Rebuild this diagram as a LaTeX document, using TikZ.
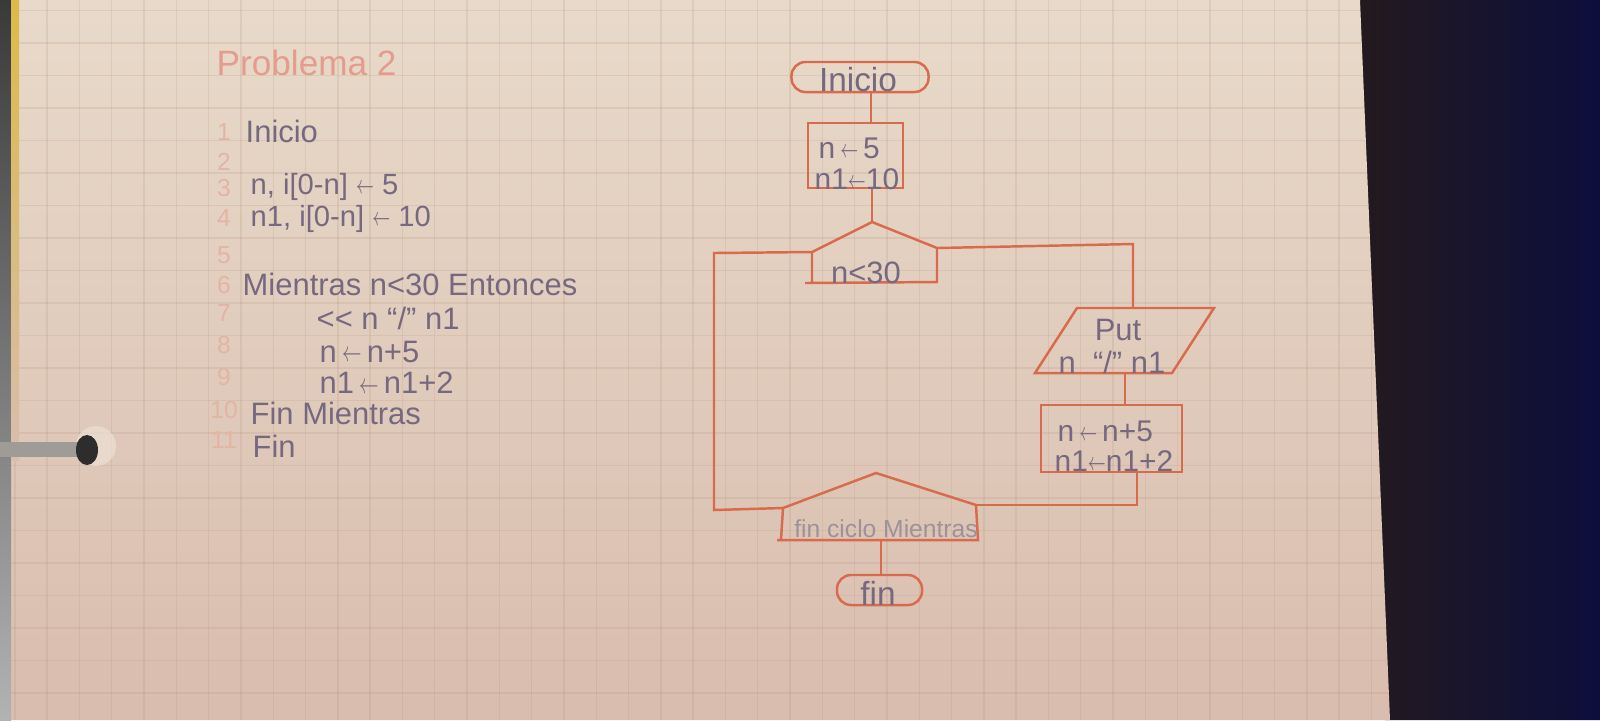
\documentclass[tikz,border=0pt]{standalone}
\usepackage{fontspec}
\usepackage{graphicx}
\setmainfont{Liberation Sans}
\definecolor{papertop}{HTML}{E8DACA}
\definecolor{paperbot}{HTML}{D9BDAE}
\definecolor{gridc}{HTML}{B08C78}
\definecolor{inkc}{HTML}{D86A4E}
\definecolor{penc}{HTML}{76697F}
\definecolor{titlec}{HTML}{E39C8D}
\definecolor{numc}{HTML}{E4B4A3}
\definecolor{darkl}{HTML}{241A1E}
\definecolor{darkr}{HTML}{0C0E3C}
\newcommand\myarr{\raisebox{0.05ex}{\scalebox{0.6}[0.9]{$\leftarrow$}}}
\begin{document}
\begin{tikzpicture}[x=0.01cm,y=-0.01cm,
  ink/.style={draw=inkc, line width=0.7pt},
  pen/.style={text=penc, inner sep=0pt, font=\fontsize{8.8}{10}\selectfont},
  pensm/.style={text=penc, inner sep=0pt, font=\fontsize{8.3}{9}\selectfont},
  penbox/.style={text=penc, inner sep=0pt, font=\fontsize{8.5}{10}\selectfont},
  penlt/.style={text=penc!65!papertop, inner sep=0pt, font=\fontsize{7}{8}\selectfont},
  numtxt/.style={text=numc, inner sep=0pt, font=\fontsize{7}{8}\selectfont},
  termbox/.style={draw=inkc, line width=0.7pt, rounded corners=0.14cm, inner sep=0pt},
  procbox/.style={draw=inkc, line width=0.7pt, inner sep=0pt}]
\useasboundingbox (0,0) rectangle (1600,720);
% ---------- background ----------
\shade[left color=darkl, right color=darkr] (1355,0) -- (1600,0) -- (1600,720) -- (1385,720) -- cycle;
\shade[top color=papertop, bottom color=paperbot] (0,0) -- (1360,0) -- (1390,720) -- (0,720) -- cycle;
\begin{scope}
  \clip (0,0) -- (1360,0) -- (1390,720) -- (0,720) -- cycle;
  \foreach \gx in {0,...,43} {
    \draw[gridc, line width=0.4pt, opacity=0.18] ({14.8+32.3*\gx},0) -- ({14.8+32.3*\gx},720);
  }
  \foreach \gy in {0,...,22} {
    \draw[gridc, line width=0.4pt, opacity=0.18] (0,{10.5+32.5*\gy}) -- (1400,{10.5+32.5*\gy});
  }
\end{scope}
% left edge of the page
\shade[top color=gray!45!black, bottom color=gray!60] (0,0) rectangle (11,720);
\shade[top color=yellow!40!brown!80!papertop, bottom color=paperbot] (11,0) rectangle (19,460);
% ring
\fill[papertop!70!white, opacity=0.6] (96,446) circle (20);
\fill[gray!70!papertop] (0,442) rectangle (80,457);
\fill[gray!35!black] (87,450) ellipse (11 and 15);
% ---------- left text ----------
\node[anchor=west, text=titlec, inner sep=0pt, font=\fontsize{10}{12}\selectfont] (title) at (216,63) {Problema 2};
\node[numtxt] (n1) at (224,132) {1};
\node[numtxt] (n2) at (224,162) {2};
\node[numtxt] (n3) at (224,188) {3};
\node[numtxt] (n4) at (224,218) {4};
\node[numtxt] (n5) at (224,255) {5};
\node[numtxt] (n6) at (224,285) {6};
\node[numtxt] (n7) at (224,313) {7};
\node[numtxt] (n8) at (224,345) {8};
\node[numtxt] (n9) at (224,377) {9};
\node[numtxt] (n10) at (224,410) {10};
\node[numtxt] (n11) at (224,440) {11};
\node[pen, anchor=west] (l1) at (245,131) {Inicio};
\node[pensm, anchor=west] (l3) at (250,187) {n, i[0-n] \myarr\ 5};
\node[pensm, anchor=west] (l4) at (250,219) {n1, i[0-n] \myarr\ 10};
\node[pen, anchor=west] (l5) at (242,284) {Mientras n<30 Entonces};
\node[pen, anchor=west] (l6) at (316,318) {\mbox{<}\mbox{<} n “/” n1};
\node[pen, anchor=west] (l7) at (319,352) {n\,\myarr\,n+5};
\node[pen, anchor=west] (l8) at (319,383) {n1\,\myarr\,n1+2};
\node[pen, anchor=west] (l10) at (250,413) {Fin Mientras};
\node[pen, anchor=west] (l11) at (252,446) {Fin};
% ---------- flowchart ----------
\node[termbox, minimum width=1.37cm, minimum height=0.30cm] (ini) at (860,77) {};
\node[pen, font=\fontsize{9.5}{11}\selectfont] (initxt) at (858,80) {Inicio};
\node[procbox, minimum width=0.95cm, minimum height=0.65cm] (init) at (855.5,155.5) {};
\node[penbox, anchor=west] (initA) at (818,148) {n\,\myarr\,5};
\node[penbox, anchor=west] (initB) at (814,179) {n1\myarr10};
\draw[ink] (ini.south -| 871,0) -- (init.north -| 871,0);
% while start
\coordinate (wapex) at (872,222);
\coordinate (wl) at (812,252);
\coordinate (wr) at (937,248);
\coordinate (wbl) at (812,282);
\coordinate (wbr) at (937,282);
\coordinate (wb0) at (805,283);
\draw[ink] (wbl) -- (wl) -- (wapex) -- (wr) -- (wbr) -- (wb0);
\node[pen] (wtxt) at (866,273) {n<30};
\draw[ink] (init.south -| wapex) -- (wapex);
% left return line
\coordinate (lc1) at (714,253);
\coordinate (lc2) at (714,510);
% right branch
\coordinate (rc1) at (1133,244);
% output
\coordinate (otl) at (1077,308);
\coordinate (otr) at (1214,308);
\coordinate (obr) at (1172,373);
\coordinate (obl) at (1035,373);
\draw[ink] (otl) -- (otr) -- (obr) -- (obl) -- cycle;
\node[pen] (outA) at (1118,330) {Put};
\node[pen] (outB) at (1112,362) {n \ “/”\ n1};
\draw[ink] (wr) -- (rc1) -- (rc1 |- otl);
% update box
\node[procbox, minimum width=1.41cm, minimum height=0.67cm] (upd) at (1111.5,438.5) {};
\node[penbox, anchor=west] (updA) at (1057,431) {n\,\myarr\,n+5};
\node[penbox, anchor=west] (updB) at (1054,461) {n1\myarr n1+2};
\coordinate (ob) at (1125,373);
\draw[ink] (ob) -- (ob |- upd.north);
% end of loop
\coordinate (eapex) at (876,473);
\coordinate (el) at (783,508);
\coordinate (er) at (976,505);
\coordinate (ebl) at (781,540);
\coordinate (ebr) at (978,540);
\coordinate (eb0) at (777,540);
\draw[ink] (ebl) -- (el) -- (eapex) -- (er) -- (ebr) -- (eb0);
\node[penlt] (etxt) at (886,529) {fin ciclo Mientras};
\coordinate (uc) at (1137,505);
\draw[ink] (uc |- upd.south) -- (uc) -- (er);
\draw[ink] (wl) -- (lc1) -- (lc2) -- (el);
% end terminal
\node[termbox, minimum width=0.85cm, minimum height=0.30cm] (fin) at (879.5,590) {};
\node[pen, font=\fontsize{9.5}{11}\selectfont] (fintxt) at (878,593) {fin};
\coordinate (ebc) at (881,540);
\draw[ink] (ebc) -- (ebc |- fin.north);
\end{tikzpicture}
\end{document}
